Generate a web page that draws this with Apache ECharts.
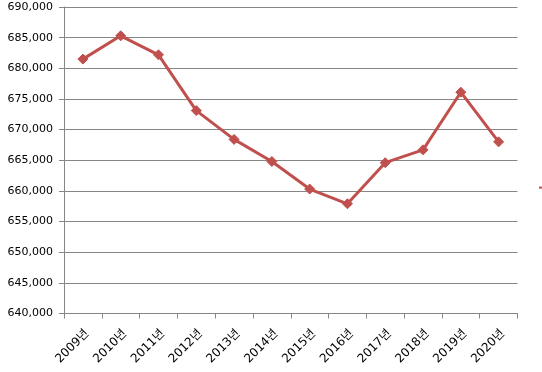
<!DOCTYPE html>
<html>
<head>
<meta charset="utf-8">
<script src="https://cdn.jsdelivr.net/npm/echarts@6/dist/echarts.min.js"></script>
<style>
html,body{margin:0;padding:0;background:#fff;}
#chart{width:542px;height:372px;}
</style>
</head>
<body>
<div id="chart"></div>
<script>
var categories = ['2009년','2010년','2011년','2012년','2013년','2014년','2015년','2016년','2017년','2018년','2019년','2020년'];
var values = [681500, 685300, 682200, 673100, 668400, 664800, 660300, 657900, 664600, 666700, 676100, 668000];
var seriesName = '계열1';
var yMin = 640000, yMax = 690000, yStep = 5000;

var font = "'DejaVu Sans','Noto Sans CJK KR',sans-serif";
var chart = echarts.init(document.getElementById('chart'), null, {renderer:'canvas'});
chart.setOption({
  animation: false,
  backgroundColor: '#fff',
  grid: {left: 64, right: 24.5, top: 7, bottom: 58.5, containLabel: false},
  legend: {
    show: true, left: 538, top: 182, padding: 0, itemWidth: 25, itemHeight: 14,
    data: [seriesName], textStyle: {fontSize: 11, fontFamily: font, color: '#000'}
  },
  xAxis: {
    type: 'category', data: categories, boundaryGap: true,
    axisLine: {lineStyle: {color: '#868686', width: 1}},
    axisTick: {show: true, alignWithLabel: false, length: 5, lineStyle: {color: '#868686'}},
    axisLabel: {rotate: 45, fontSize: 12, fontFamily: font, color: '#000', margin: 14, interval: 0,
      verticalAlign: 'top'},
    splitLine: {show: false}
  },
  yAxis: {
    type: 'value', min: yMin, max: yMax, interval: yStep,
    axisLine: {show: true, lineStyle: {color: '#868686', width: 1}},
    axisTick: {show: true, length: 5, lineStyle: {color: '#868686'}},
    axisLabel: {fontSize: 11, fontFamily: font, color: '#000', margin: 11,
      formatter: function(v){ return v.toLocaleString('en-US'); }},
    splitLine: {show: true, lineStyle: {color: '#868686', width: 1}}
  },
  series: [{
    name: seriesName, type: 'line', data: values,
    symbol: 'diamond', symbolSize: 10, showAllSymbol: true,
    lineStyle: {color: '#C0504D', width: 3},
    itemStyle: {color: '#C0504D', borderColor: '#C0504D'}
  }]
});
</script>
</body>
</html>
